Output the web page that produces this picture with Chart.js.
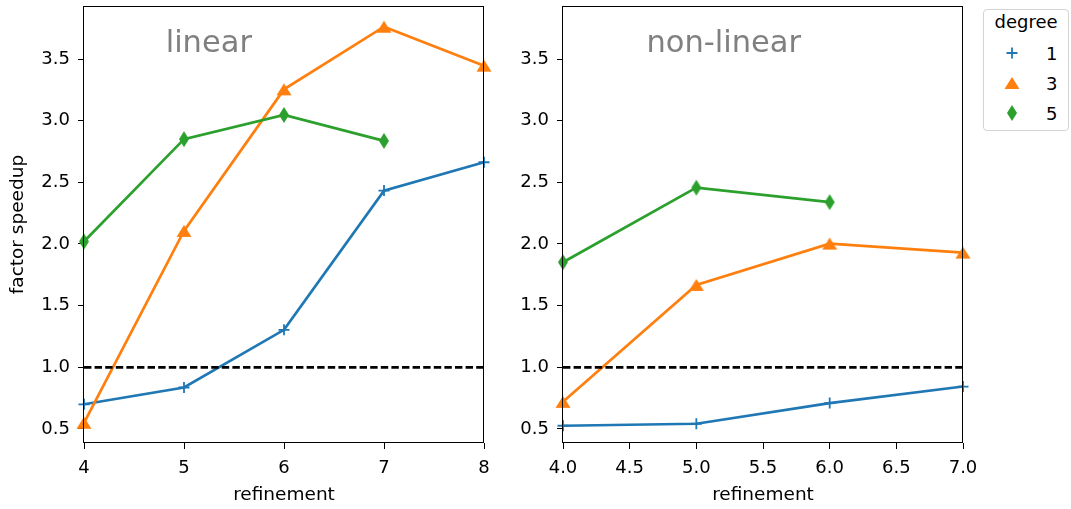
<!DOCTYPE html>
<html>
<head>
<meta charset="utf-8">
<script src="https://cdn.jsdelivr.net/npm/chart.js@4.4.1/dist/chart.umd.min.js"></script>
<style>
html,body{margin:0;padding:0;background:#fff;width:1071px;height:509px;overflow:hidden;font-family:'DejaVu Sans',sans-serif;}
canvas{position:absolute;top:0;}
#c1{left:0px;}
#c2{left:479px;}
#legend{position:absolute;left:983px;top:9px;width:84px;height:120px;border:1px solid #d4d4d4;border-radius:4px;background:rgba(255,255,255,0.8);font-size:18px;line-height:21.6px;color:#000;}
#legend .t{position:absolute;left:0;width:84px;text-align:center;white-space:nowrap;}
#legend .l{position:absolute;white-space:nowrap;}
#legend canvas{position:absolute;}
</style>
</head>
<body>
<canvas id="c1" width="504" height="509" style="width:504px;height:509px"></canvas>
<canvas id="c2" width="504" height="509" style="width:504px;height:509px"></canvas>
<div id="legend"></div>
<script>
// ---- data ----
const refinementLinear = [4, 5, 6, 7, 8];
const refinementNonlinear = [4, 5, 6, 7];
const linearDeg1 = [0.70, 0.836, 1.304, 2.433, 2.663];
const linearDeg3 = [0.55, 2.106, 3.254, 3.762, 3.446];
const linearDeg5 = [2.02, 2.85, 3.046, 2.836];
const nonlinearDeg1 = [0.526, 0.542, 0.71, 0.844];
const nonlinearDeg3 = [0.72, 1.668, 2.003, 1.93];
const nonlinearDeg5 = [1.852, 2.457, 2.339];
const degrees = ['1', '3', '5'];
const panelTitles = ['linear', 'non-linear'];
const yTicks = [0.5, 1.0, 1.5, 2.0, 2.5, 3.0, 3.5];
const xTicksLinear = [4, 5, 6, 7, 8];
const xTicksNonlinear = [4.0, 4.5, 5.0, 5.5, 6.0, 6.5, 7.0];
const baselineValue = 1.0;
const yLabel = 'factor speedup';
const xLabel = 'refinement';
const legendTitle = 'degree';

// ---- styles ----
const colors = ['#1f77b4', '#ff7f0e', '#2ca02c'];
const FONT = 'DejaVu Sans';
Chart.defaults.font.family = FONT;
Chart.defaults.font.size = 18;
Chart.defaults.color = '#000';

function makeTriangle(color) {
  const c = document.createElement('canvas');
  c.width = 16; c.height = 14;
  const g = c.getContext('2d');
  g.fillStyle = color;
  g.beginPath(); g.moveTo(8, 1); g.lineTo(15.5, 13); g.lineTo(0.5, 13); g.closePath(); g.fill();
  return c;
}
function makeDiamond(color) {
  const c = document.createElement('canvas');
  c.width = 12; c.height = 18;
  const g = c.getContext('2d');
  g.fillStyle = color;
  g.beginPath(); g.moveTo(6, 1); g.lineTo(11, 9); g.lineTo(6, 17); g.lineTo(1, 9); g.closePath(); g.fill();
  return c;
}
function makePlus(color) {
  const c = document.createElement('canvas');
  c.width = 14; c.height = 14;
  const g = c.getContext('2d');
  g.strokeStyle = color; g.lineWidth = 1.8;
  g.beginPath(); g.moveTo(1.5, 7); g.lineTo(12.5, 7); g.moveTo(7, 1.5); g.lineTo(7, 12.5); g.stroke();
  return c;
}
const markerStyles = [
  {pointStyle: 'cross', pointRadius: 5.5, pointBorderWidth: 1.8},
  {pointStyle: makeTriangle(colors[1]), pointRadius: 7},
  {pointStyle: makeDiamond(colors[2]), pointRadius: 7}
];

function pts(xs, ys) { return ys.map((y, i) => ({x: xs[i], y: y})); }

const framePlugin = {
  id: 'frame',
  afterDatasetsDraw(chart) {
    const a = chart.chartArea, ctx = chart.ctx;
    ctx.save();
    ctx.strokeStyle = '#000'; ctx.lineWidth = 1;
    const l = Math.round(a.left) - 0.5, t = Math.round(a.top) + 0.5;
    const r = Math.round(a.right) - 0.5, b = Math.round(a.bottom) - 0.5;
    ctx.strokeRect(l, t, r - l, b - t);
    ctx.restore();
  }
};
const panelTextPlugin = {
  id: 'panelText',
  afterDatasetsDraw(chart, args, opts) {
    const a = chart.chartArea, ctx = chart.ctx;
    ctx.save();
    ctx.font = opts.size + 'px "' + FONT + '"';
    ctx.fillStyle = opts.color;
    ctx.textAlign = 'center';
    ctx.textBaseline = 'alphabetic';
    ctx.fillText(opts.text, a.left + opts.fx * (a.right - a.left), a.top + opts.dy);
    ctx.restore();
  }
};

function buildChart(id, xs, d1, d3, d5, xTicks, xFmt, showYTitle, title, fx) {
  const xMin = xTicks[0], xMax = xTicks[xTicks.length - 1];
  const seriesData = [d1, d3, d5];
  const datasets = seriesData.map((ys, i) => Object.assign({
    label: degrees[i],
    data: pts(xs, ys),
    borderColor: colors[i],
    backgroundColor: colors[i],
    pointBorderColor: colors[i],
    pointBackgroundColor: colors[i],
    borderWidth: 2.7,
    tension: 0,
    clip: false,
    order: 3 - i
  }, markerStyles[i]));
  datasets.push({
    label: 'baseline',
    data: [{x: xMin, y: baselineValue}, {x: xMax, y: baselineValue}],
    borderColor: '#000',
    borderWidth: 2.7,
    borderDash: [7.4, 3.2],
    pointRadius: 0,
    tension: 0,
    clip: false,
    order: 0
  });
  return new Chart(document.getElementById(id), {
    type: 'line',
    data: {datasets: datasets},
    options: {
      responsive: false,
      animation: false,
      devicePixelRatio: 1,
      layout: {autoPadding: false, padding: {left: 0, right: 20, top: 6, bottom: 0}},
      plugins: {
        legend: {display: false},
        tooltip: {enabled: false},
        panelText: {text: title, fx: fx, dy: 45.5, size: 30.5, color: '#808080'}
      },
      scales: {
        x: {
          type: 'linear',
          min: xMin, max: xMax,
          afterBuildTicks: (s) => { s.ticks = xTicks.map(v => ({value: v})); },
          afterFit: (s) => { s.height = 66; s.paddingLeft = 0; s.paddingRight = 0; },
          ticks: {callback: (v) => xFmt(v), padding: 9, maxRotation: 0, autoSkip: false, font: {size: 18}, color: '#000'},
          grid: {display: true, drawOnChartArea: false, drawTicks: true, tickLength: 6, color: '#000', lineWidth: 1},
          border: {display: false},
          title: {display: true, text: xLabel, font: {size: 18.5}, color: '#000', padding: {top: 0, bottom: 3}}
        },
        y: {
          type: 'linear',
          min: 0.386, max: 3.93,
          afterBuildTicks: (s) => { s.ticks = yTicks.map(v => ({value: v})); },
          afterFit: (s) => { s.width = 84; s.paddingTop = 0; s.paddingBottom = 0; },
          ticks: {callback: (v) => v.toFixed(1), padding: 8, font: {size: 18, lineHeight: 0.5}, color: '#000'},
          grid: {display: true, drawOnChartArea: false, drawTicks: true, tickLength: 6, color: '#000', lineWidth: 1},
          border: {display: false},
          title: {display: showYTitle, text: yLabel, font: {size: 18.5}, color: '#000', padding: {top: 7, bottom: 0}}
        }
      }
    },
    plugins: [framePlugin, panelTextPlugin]
  });
}

buildChart('c1', refinementLinear, linearDeg1, linearDeg3, linearDeg5, xTicksLinear, (v) => String(v), true, panelTitles[0], 0.312);
buildChart('c2', refinementNonlinear, nonlinearDeg1, nonlinearDeg3, nonlinearDeg5, xTicksNonlinear, (v) => v.toFixed(1), false, panelTitles[1], 0.402);

// ---- legend (HTML, real text) ----
(function () {
  const lg = document.getElementById('legend');
  const t = document.createElement('div');
  t.className = 't'; t.style.top = '0.5px'; t.textContent = legendTitle;
  lg.appendChild(t);
  const makers = [makePlus, makeTriangle, makeDiamond];
  degrees.forEach((d, i) => {
    const baseline = 50 + 30 * i; // relative to legend content box
    const m = makers[i](colors[i]);
    m.style.left = (28 - m.width / 2) + 'px';
    m.style.top = (baseline - 6.7 - m.height / 2) + 'px';
    lg.appendChild(m);
    const l = document.createElement('div');
    l.className = 'l'; l.style.left = '62px'; l.style.top = (baseline - 17) + 'px';
    l.textContent = d;
    lg.appendChild(l);
  });
})();
</script>
</body>
</html>
